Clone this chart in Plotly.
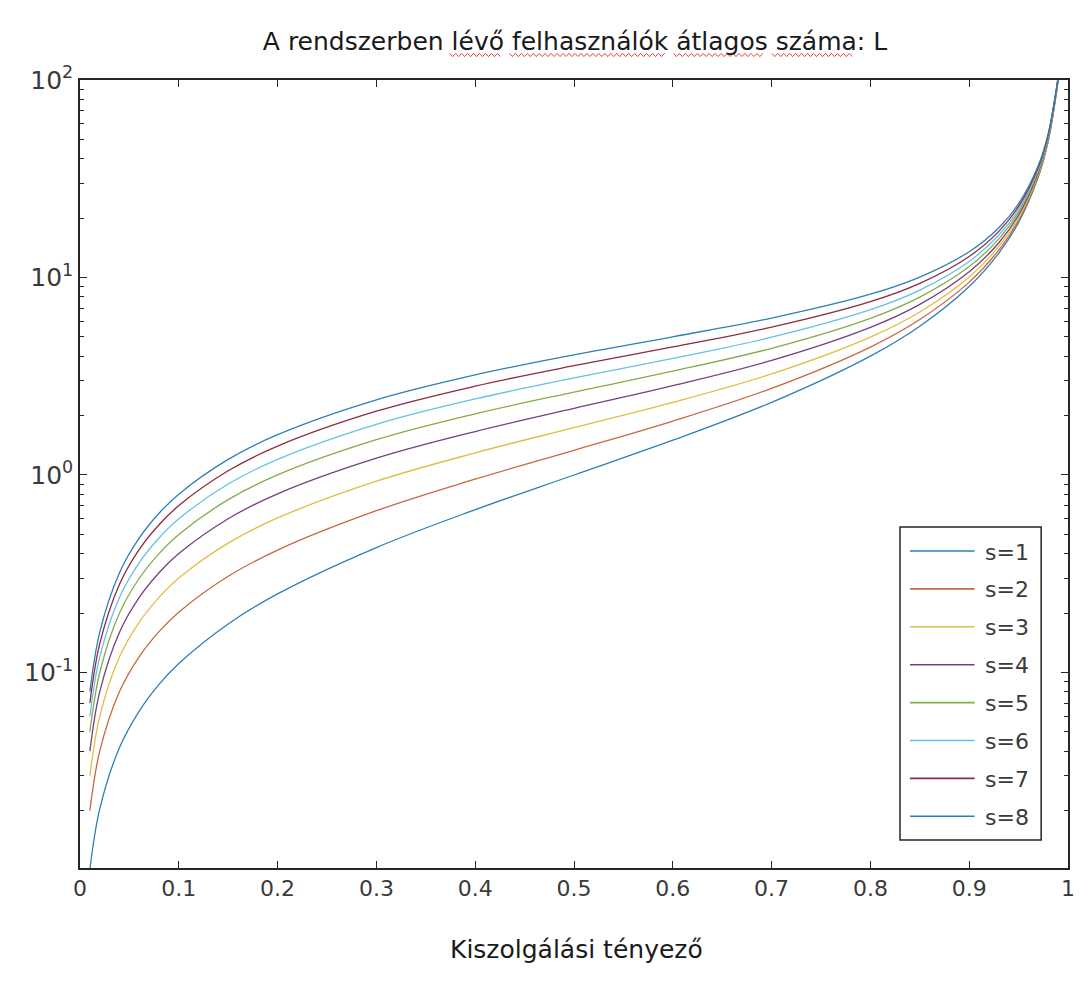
import plotly.graph_objects as go

# Server utilisation (rho) sample points
rho = [0.01, 0.02, 0.04, 0.06, 0.08, 0.10, 0.15, 0.20, 0.30, 0.40, 0.50,
       0.60, 0.70, 0.80, 0.85, 0.90, 0.93, 0.95, 0.97, 0.98, 0.99]

# Mean number of customers in the system, one list per server count
L_s1 = [0.0101, 0.0204, 0.0417, 0.0638, 0.0870, 0.111, 0.176, 0.250, 0.429, 0.667, 1.000,
        1.500, 2.333, 4.000, 5.667, 9.000, 13.29, 19.00, 32.33, 49.00, 99.00]
L_s2 = [0.0200, 0.0400, 0.0801, 0.1204, 0.1610, 0.2020, 0.3069, 0.4167, 0.6593, 0.9524, 1.333,
        1.875, 2.745, 4.444, 6.126, 9.474, 13.77, 19.49, 32.83, 49.49, 99.50]
L_s3 = [0.030, 0.060, 0.120, 0.180, 0.240, 0.3007, 0.452, 0.606, 0.930, 1.294, 1.737,
        2.332, 3.249, 4.989, 6.689, 10.05, 14.36, 20.08, 33.43, 50.10, 100.1]
L_s4 = [0.040, 0.080, 0.160, 0.240, 0.320, 0.400, 0.6006, 0.8024, 1.216, 1.660, 2.174,
        2.831, 3.800, 5.586, 7.306, 10.69, 15.00, 20.74, 34.09, 50.76, 100.8]
L_s5 = [0.050, 0.100, 0.200, 0.300, 0.400, 0.500, 0.750, 1.001, 1.509, 2.040, 2.630,
        3.354, 4.382, 6.216, 7.959, 11.36, 15.69, 21.43, 34.79, 51.46, 101.5]
L_s6 = [0.060, 0.120, 0.240, 0.360, 0.480, 0.600, 0.900, 1.200, 1.805, 2.427, 3.099,
        3.895, 4.984, 6.871, 8.636, 12.06, 16.40, 22.15, 35.51, 52.20, 102.1]
L_s7 = [0.070, 0.140, 0.280, 0.420, 0.560, 0.700, 1.050, 1.400, 2.103, 2.818, 3.576,
        4.448, 5.602, 7.544, 9.333, 12.78, 17.13, 22.89, 36.24, 52.92, 102.8]
L_s8 = [0.080, 0.160, 0.320, 0.480, 0.640, 0.800, 1.200, 1.600, 2.402, 3.212, 4.059,
        5.009, 6.232, 8.231, 10.05, 13.51, 17.87, 23.64, 36.99, 53.60, 103.5]

series_names = ["s=1", "s=2", "s=3", "s=4", "s=5", "s=6", "s=7", "s=8"]
series_values = [L_s1, L_s2, L_s3, L_s4, L_s5, L_s6, L_s7, L_s8]
colors = ["#2f7fb5", "#c8683f", "#e4bb45", "#74407f", "#86ab4a",
          "#66c1e6", "#8e2a3e", "#2f7fb5"]

x_tickvals = [0, 0.1, 0.2, 0.3, 0.4, 0.5, 0.6, 0.7, 0.8, 0.9, 1]
x_ticktext = ["0", "0.1", "0.2", "0.3", "0.4", "0.5", "0.6", "0.7", "0.8", "0.9", "1"]
y_tickvals = [0.1, 1, 10, 100]
y_ticktext = ["10<sup>-1</sup>", "10<sup>0</sup>", "10<sup>1</sup>", "10<sup>2</sup>"]
y_minor_vals = [m * 10.0 ** e for e in (-2, -1, 0, 1) for m in range(2, 10)]

FONT = "DejaVu Sans, Liberation Sans, Arial, sans-serif"
AXIS_COLOR = "#262626"
TEXT_COLOR = "#3a3a3a"

fig = go.Figure()
for name, vals, col in zip(series_names, series_values, colors):
    fig.add_trace(go.Scatter(
        x=rho, y=vals, name=name, mode="lines", showlegend=False,
        line=dict(color=col, width=1.3, shape="spline", smoothing=1.0),
    ))

W, H = 1087, 994
ML, MR, MT, MB = 80, 13, 80, 126
pw, ph = W - ML - MR, H - MT - MB


def px_x(px):
    return (px - ML) / pw


def px_y(py):
    return (H - MB - py) / ph


# Red wavy spell-check underlines beneath the title words
def squiggle(x0, x1, y, amp=1.6, step=3.0):
    pts = []
    x = x0
    k = 0
    while x <= x1:
        pts.append((px_x(x), px_y(y + (amp if k % 2 else -amp))))
        x += step
        k += 1
    return "M " + " L ".join(f"{a:.5f},{b:.5f}" for a, b in pts)


shapes = []
annotations = []
for a, b in [(452, 504), (512, 668), (677, 768), (776, 857)]:
    shapes.append(dict(type="path", xref="paper", yref="paper",
                       path=squiggle(a, b, 55), line=dict(color="#e0403a", width=1)))

# Boxed legend with long line samples
LEG_L, LEG_R, LEG_T, LEG_B = 905, 1047, 527, 840
shapes.append(dict(type="rect", xref="paper", yref="paper",
                   x0=px_x(LEG_L), x1=px_x(LEG_R), y0=px_y(LEG_B), y1=px_y(LEG_T),
                   line=dict(color=AXIS_COLOR, width=1.5), fillcolor="white", layer="above"))
for i, (name, col) in enumerate(zip(series_names, colors)):
    yy = 551 + i * 37.9
    shapes.append(dict(type="line", xref="paper", yref="paper",
                       x0=px_x(915), x1=px_x(980), y0=px_y(yy), y1=px_y(yy),
                       line=dict(color=col, width=1.6), layer="above"))
    annotations.append(dict(text=name, xref="paper", yref="paper",
                            x=px_x(988), y=px_y(yy + 1), xanchor="left", yanchor="middle",
                            showarrow=False,
                            font=dict(family=FONT, size=22, color=TEXT_COLOR)))

annotations.append(dict(text="Kiszolgálási tényező", xref="paper", yref="paper",
                        x=px_x(580), y=px_y(950), xanchor="center", yanchor="middle",
                        showarrow=False,
                        font=dict(family=FONT, size=25, color="#1a1a1a")))

fig.update_layout(
    width=W, height=H,
    margin=dict(l=ML, r=MR, t=MT, b=MB),
    paper_bgcolor="white", plot_bgcolor="white",
    font=dict(family=FONT, size=22, color=TEXT_COLOR),
    title=dict(text="A rendszerben lévő felhasználók átlagos száma: L",
               x=575 / W, xanchor="center",
               y=1 - 41 / H, yanchor="middle",
               font=dict(family=FONT, size=25, color="#1a1a1a")),
    showlegend=False,
    shapes=shapes,
    annotations=annotations,
)

fig.update_xaxes(
    range=[0, 1], tickvals=x_tickvals, ticktext=x_ticktext,
    ticks="inside", ticklen=7, tickwidth=1.2, tickcolor=AXIS_COLOR,
    showline=True, linecolor=AXIS_COLOR, linewidth=1.5, mirror="ticks",
    showgrid=False, zeroline=False,
    tickfont=dict(family=FONT, size=22, color=TEXT_COLOR),
)
fig.update_yaxes(
    type="log", range=[-1.99, 2], tickvals=y_tickvals, ticktext=y_ticktext,
    ticks="inside", ticklen=7, tickwidth=1.2, tickcolor=AXIS_COLOR,
    minor=dict(tickmode="array", tickvals=y_minor_vals, ticks="inside",
               ticklen=4, tickwidth=1, tickcolor=AXIS_COLOR, showgrid=False),
    showline=True, linecolor=AXIS_COLOR, linewidth=1.5, mirror="ticks",
    showgrid=False, zeroline=False,
    tickfont=dict(family=FONT, size=25, color=TEXT_COLOR),
)

fig.write_html("out.html")
